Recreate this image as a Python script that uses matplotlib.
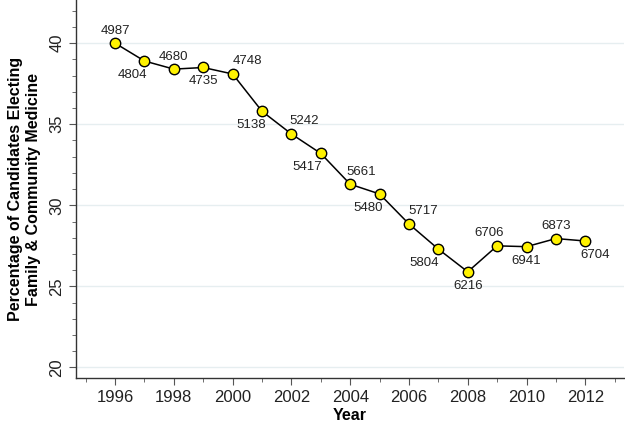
import matplotlib
matplotlib.use("Agg")
import matplotlib.pyplot as plt
from matplotlib.ticker import MultipleLocator

plt.rcParams['font.family'] = ['Liberation Sans', 'DejaVu Sans']

# Datos
years = [1996, 1997, 1998, 1999, 2000, 2001, 2002, 2003, 2004,
         2005, 2006, 2007, 2008, 2009, 2010, 2011, 2012]
percent = [40.0, 38.9, 38.4, 38.5, 38.1, 35.8, 34.4, 33.2, 31.3,
           30.7, 28.85, 27.3, 25.9, 27.5, 27.45, 27.95, 27.8]
candidates = [4987, 4804, 4680, 4735, 4748, 5138, 5242, 5417, 5661,
              5480, 5717, 5804, 6216, 6706, 6941, 6873, 6704]

# desplazamiento de cada etiqueta (puntos)
offsets = [(0, 9), (-9, -10), (0, 9), (0, -10), (11, 9), (-8, -10),
           (9, 9), (-10, -10), (8, 9), (-8, -10), (10, 9), (-10, -10),
           (0, -10), (-6, 9), (0, -10), (0, 9), (7, -10)]

fig = plt.figure(figsize=(6.25, 4.24), dpi=100)
ax = fig.add_axes([0.1216, 0.1085, 0.876, 0.891])

ax.plot(years, percent, color='black', lw=1.1, marker='o', ms=7.5,
        mfc='#FFF200', mec='black', mew=1.0, zorder=3)

for x, y, n, (dx, dy) in zip(years, percent, candidates, offsets):
    ax.annotate(str(n), (x, y), xytext=(dx, dy), textcoords='offset points',
                ha='center', va='center', fontsize=9.5, color='#222222')

ax.set_xlim(1994.67, 2013.3)
ax.set_ylim(19.35, 42.65)
ax.xaxis.set_major_locator(MultipleLocator(2))
ax.xaxis.set_minor_locator(MultipleLocator(1))
ax.yaxis.set_major_locator(MultipleLocator(5))
ax.yaxis.set_minor_locator(MultipleLocator(1))

ax.grid(axis='y', which='major', color='#e6eef0', lw=1.0, zorder=0)
for s in ['top', 'right']:
    ax.spines[s].set_visible(False)
for s in ['left', 'bottom']:
    ax.spines[s].set_color('#333333')
    ax.spines[s].set_linewidth(1.0)

ax.tick_params(which='major', length=5, color='#555555', labelsize=12, labelcolor='#222222')
ax.tick_params(which='minor', length=3, color='#555555')
for lab in ax.get_yticklabels():
    lab.set_rotation(90)
    lab.set_va('center')

ax.set_xlabel('Year', fontsize=11.5, fontweight='bold', labelpad=2)
ax.set_ylabel('Percentage of Candidates Electing\nFamily & Community Medicine',
              fontsize=11.5, fontweight='bold', labelpad=6)

fig.savefig('out.png', dpi=100)
